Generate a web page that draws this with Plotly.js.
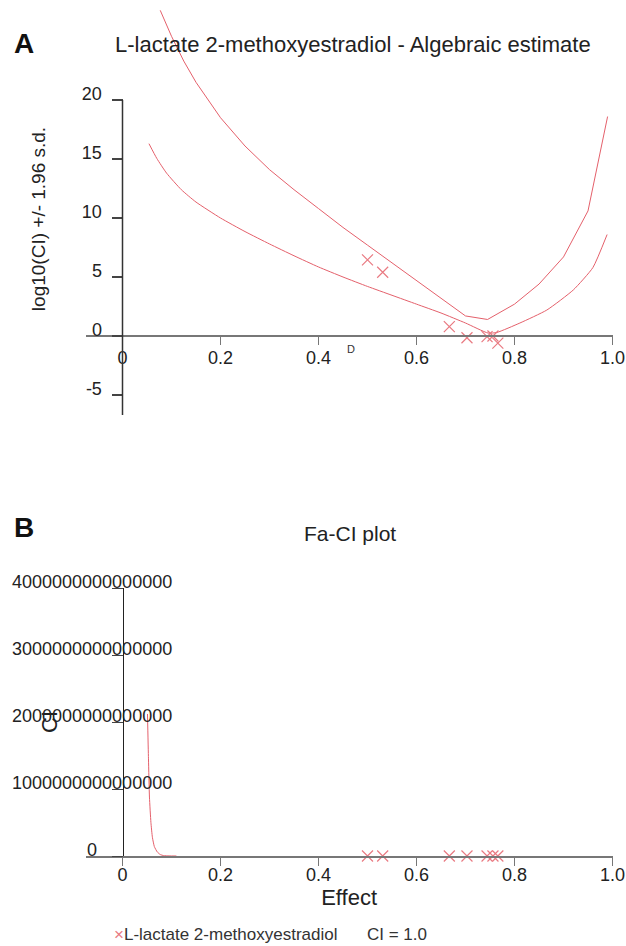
<!DOCTYPE html>
<html><head><meta charset="utf-8">
<script src="https://cdn.plot.ly/plotly-3.0.1.min.js"></script>
<style>html,body{margin:0;padding:0;background:#fff}#chart{width:626px;height:946px}</style>
</head><body><div id="chart"></div>
<script>
// ---------- Panel A : log10(CI) +/- 1.96 s.d. ----------
const upperFa = [0.077,0.10,0.125,0.15,0.20,0.25,0.30,0.35,0.40,0.45,0.50,0.55,0.60,0.65,0.70,0.745,0.80,0.85,0.90,0.95,0.99];
const upperLogCI = [27.6,25.4,23.3,21.5,18.5,16.1,14.1,12.4,10.8,9.2,7.7,6.2,4.75,3.25,1.7,1.4,2.7,4.4,6.7,10.6,18.6];
const lowerFa = [0.054,0.07,0.09,0.12,0.15,0.20,0.25,0.30,0.35,0.40,0.45,0.50,0.55,0.60,0.65,0.70,0.746,0.764,0.811,0.866,0.92,0.96,0.989];
const lowerLogCI = [16.3,15.05,13.8,12.4,11.35,10.0,8.85,7.8,6.8,5.85,5.0,4.2,3.45,2.7,1.95,1.1,0.25,0.3,1.1,2.2,3.9,5.8,8.6];
// experimental points
const pointFa = [0.500,0.531,0.667,0.703,0.744,0.756,0.766];
const pointLogCI = [6.45,5.4,0.8,-0.15,-0.05,0.0,-0.6];
const pointCI = [2.8e6,2.5e5,6.3,0.7,0.9,1.0,0.25];
// ---------- Panel B : Fa-CI plot ----------
const curveFa = [0.051,0.053,0.055,0.058,0.061,0.065,0.071,0.077,0.084,0.095,0.11];
const curveCI = [2.12e15,1.45e15,0.88e15,0.50e15,0.28e15,0.14e15,0.06e15,0.022e15,0.006e15,0.0012e15,0.0001e15];
// ticks
const xTickVals = [0,0.2,0.4,0.6,0.8,1.0];
const xTickText = ['0','0.2','0.4','0.6','0.8','1.0'];
const aTickVals = [-5,0,5,10,15,20];
const aTickText = ['-5','0','5','10','15','20'];
const bTickVals = [0,1e15,2e15,3e15,4e15];
const bTickText = ['0','1000000000000000','2000000000000000','3000000000000000','4000000000000000'];

const seriesName = 'L-lactate 2-methoxyestradiol';
const RED = '#e4606b', XRED = '#e97a82';
const FONT = 'Liberation Sans, Arial, Helvetica, sans-serif';
const W = 626, H = 946;
const fx = p => p / W, fy = p => 1 - p / H;

// pixel frames (layout only)
const ax0 = 122.5, axPer = 490;           // x: 0 -> 122.5px, 1 -> 612.5px
const aY0 = 336, aPer = 11.8;             // A y: 0 -> 336px
const bY0 = 856, bPer = 67 / 1e15;        // B y: 0 -> 856px
const xr = [-0.075, 1.0];
const aRange = [(aY0 - 430) / aPer, (aY0 - 8) / aPer];
const xDom = [fx(ax0 + axPer * xr[0]), fx(ax0 + axPer * xr[1])];

const traces = [
  {x: upperFa, y: upperLogCI, xaxis:'x', yaxis:'y', mode:'lines', line:{color:RED, width:1}, showlegend:false, hoverinfo:'skip'},
  {x: lowerFa, y: lowerLogCI, xaxis:'x', yaxis:'y', mode:'lines', line:{color:RED, width:1, shape:'spline', smoothing:0.5}, showlegend:false, hoverinfo:'skip'},
  {x: pointFa, y: pointLogCI, xaxis:'x', yaxis:'y', mode:'markers', name: seriesName, cliponaxis:false,
   marker:{symbol:'x-thin-open', size:11, line:{color:XRED, width:1.2}, color:XRED}, showlegend:false},
  {x: curveFa, y: curveCI, xaxis:'x2', yaxis:'y2', mode:'lines', cliponaxis:false, line:{color:RED, width:1, shape:'spline', smoothing:0.5}, showlegend:false, hoverinfo:'skip'},
  {x: pointFa, y: pointCI, xaxis:'x2', yaxis:'y2', mode:'markers', name: seriesName, cliponaxis:false,
   marker:{symbol:'x-thin-open', size:11, line:{color:XRED, width:1.2}, color:XRED}, showlegend:false}
];

const tickFont = {family:FONT, size:18, color:'#222'};
const annotations = [
  {text:'A', xref:'paper', yref:'paper', x:fx(12), y:fy(44), xanchor:'left', yanchor:'middle', showarrow:false, font:{family:FONT, size:28, weight:'bold', color:'#111'}},
  {text:'L-lactate 2-methoxyestradiol - Algebraic estimate', xref:'paper', yref:'paper', x:fx(113), y:fy(45), xanchor:'left', yanchor:'middle', showarrow:false, font:{family:FONT, size:22, color:'#222'}},
  {text:'D', xref:'paper', yref:'paper', x:fx(351), y:fy(349), xanchor:'center', yanchor:'middle', showarrow:false, font:{family:FONT, size:11, color:'#333'}},
  {text:'B', xref:'paper', yref:'paper', x:fx(12), y:fy(527), xanchor:'left', yanchor:'middle', showarrow:false, font:{family:FONT, size:28, weight:'bold', color:'#111'}},
  {text:'Fa-CI plot', xref:'paper', yref:'paper', x:fx(350), y:fy(533), xanchor:'center', yanchor:'middle', showarrow:false, font:{family:FONT, size:21, color:'#222'}},
  {text:'<span style="color:'+XRED+'">×</span>' + seriesName, xref:'paper', yref:'paper', x:fx(113), y:fy(945), xanchor:'left', yanchor:'bottom', borderpad:0, showarrow:false, font:{family:FONT, size:17, color:'#333'}},
  {text:'CI = 1.0', xref:'paper', yref:'paper', x:fx(366), y:fy(945), xanchor:'left', yanchor:'bottom', borderpad:0, showarrow:false, font:{family:FONT, size:17, color:'#333'}}
];
bTickVals.forEach((v, i) => annotations.push({text:bTickText[i], xref:'paper', yref:'y2', x:fx(92), y:v, yshift:6,
  xanchor:'center', yanchor:'middle', showarrow:false, font:tickFont}));

const layout = {
  width:W, height:H, margin:{l:0, r:0, t:0, b:0},
  paper_bgcolor:'#fff', plot_bgcolor:'rgba(0,0,0,0)', showlegend:false,
  font:{family:FONT, color:'#222'},
  xaxis:{domain:xDom, range:xr, anchor:'free', position:fy(aY0), showgrid:false, zeroline:false,
    showline:true, linecolor:'#777', linewidth:2, ticks:'outside', ticklen:8, tickwidth:1.5, tickcolor:'#777',
    tickvals:xTickVals, ticktext:xTickText, tickfont:tickFont, ticklabelstandoff:-3},
  yaxis:{domain:[fy(430), fy(8)], range:aRange, anchor:'free', position:fx(ax0), showgrid:false, zeroline:false,
    showline:false, ticks:'outside', ticklen:11, tickwidth:1.5, tickcolor:'#444',
    tickvals:aTickVals, ticktext:aTickText, tickfont:tickFont, ticklabelshift:-6, ticklabelstandoff:6,
    title:{text:'log10(CI) +/- 1.96 s.d.', font:{family:FONT, size:19, color:'#222'}, standoff:30}},
  xaxis2:{domain:xDom, range:xr, anchor:'y2', showgrid:false, zeroline:false,
    showline:true, linecolor:'#777', linewidth:2, ticks:'outside', ticklen:8, tickwidth:1.5, tickcolor:'#777',
    tickvals:xTickVals, ticktext:xTickText, tickfont:tickFont, ticklabelstandoff:-7,
    title:{text:'Effect', font:{family:FONT, size:22, color:'#222'}, standoff:0}},
  yaxis2:{domain:[fy(bY0), fy(bY0 - 4e15 * bPer)], range:[0, 4e15], anchor:'free', position:fx(ax0),
    showgrid:false, zeroline:false, showline:true, linecolor:'#222', linewidth:1,
    ticks:'outside', ticklen:11, tickwidth:1, tickcolor:'#444', tickvals:bTickVals, showticklabels:false,
    title:{text:'CI', font:{family:FONT, size:22, color:'#222'}, standoff:46}},
  shapes:[{type:'line', xref:'x', yref:'y', x0:0, x1:0, y0:-6.7, y1:20, line:{color:'#333', width:1.5}}],
  annotations:annotations
};
Plotly.newPlot('chart', traces, layout, {staticPlot:true, displayModeBar:false});
</script></body></html>
